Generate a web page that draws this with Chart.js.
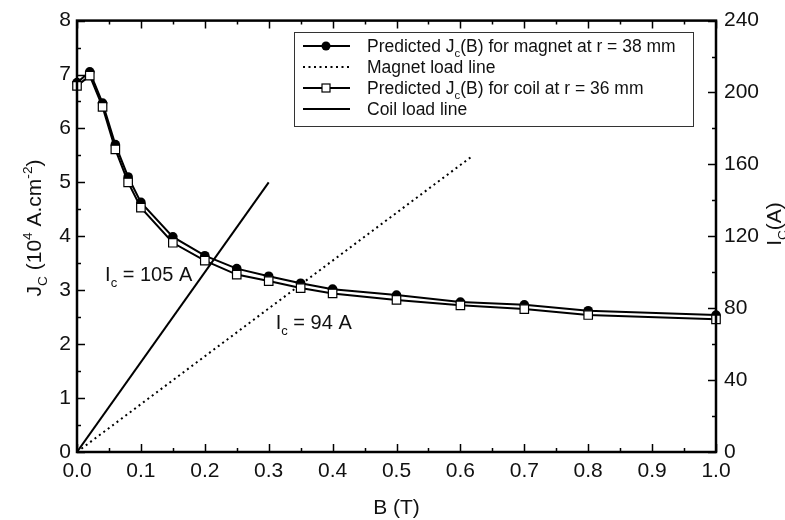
<!DOCTYPE html>
<html>
<head>
<meta charset="utf-8">
<script src="https://cdn.jsdelivr.net/npm/chart.js@4.4.1/dist/chart.umd.min.js"></script>
<style>
  html, body { margin: 0; padding: 0; background: #fff; }
  #wrap { width: 785px; height: 520px; }
</style>
</head>
<body>
<div id="wrap"><canvas id="jc-chart" width="785" height="520"></canvas></div>
<script>
// field values (T) where Jc(B) was predicted
const bField = [0, 0.02, 0.04, 0.06, 0.08, 0.1, 0.15, 0.2, 0.25, 0.3, 0.35, 0.4, 0.5, 0.6, 0.7, 0.8, 1.0];
// Jc in 10^4 A/cm^2
const jcMagnet = [6.85, 7.05, 6.47, 5.70, 5.10, 4.63, 3.99, 3.64, 3.40, 3.26, 3.13, 3.02, 2.91, 2.78, 2.73, 2.62, 2.54];
const jcCoil = [6.79, 6.98, 6.40, 5.61, 5.00, 4.53, 3.88, 3.55, 3.29, 3.17, 3.04, 2.94, 2.82, 2.72, 2.65, 2.54, 2.46];

// load lines, end points only
const coilLoadB = [0, 0.3];
const coilLoadJ = [0, 5.0];
const magnetLoadB = [0, 0.62];
const magnetLoadJ = [0, 5.5];

// right axis is Ic (A): 0..240 over Jc 0..8
const icMax = 240;
const icStep = 40;

const FONT = '"Liberation Sans", Arial, Helvetica, sans-serif';

const toPoints = (xs, ys) => xs.map((x, i) => ({ x: x, y: ys[i] }));

// text with sub/superscript pieces: [text, 0 normal | 1 sub | 2 sup]
function drawRich(ctx, parts, x, y, size, align) {
  const small = size * 0.65;
  let total = 0;
  const widths = parts.map(([t, mode]) => {
    ctx.font = (mode ? small : size) + "px " + FONT;
    const w = ctx.measureText(t).width;
    total += w;
    return w;
  });
  let cx = align === "center" ? x - total / 2 : x;
  ctx.textAlign = "left";
  ctx.textBaseline = "alphabetic";
  parts.forEach(([t, mode], i) => {
    ctx.font = (mode ? small : size) + "px " + FONT;
    let dy = 0;
    if (mode === 1) dy = size * 0.3;
    if (mode === 2) dy = -size * 0.42;
    ctx.fillText(t, cx, y + dy);
    cx += widths[i];
  });
}

const frameAndTicks = {
  id: "frameAndTicks",
  afterDatasetsDraw(chart) {
    const { ctx, chartArea: a, scales } = chart;
    const xs = scales.x, yl = scales.y, yr = scales.y2;
    ctx.save();
    ctx.strokeStyle = "#000";
    ctx.lineWidth = 1.5;
    ctx.beginPath();
    // bottom & top ticks, inward
    for (let i = 0; i <= 20; i++) {
      const px = Math.round(xs.getPixelForValue(i * 0.05)) + 0.5;
      const len = i % 2 === 0 ? 8 : 4;
      ctx.moveTo(px, a.bottom); ctx.lineTo(px, a.bottom - len);
      ctx.moveTo(px, a.top); ctx.lineTo(px, a.top + len);
    }
    // left ticks
    for (let i = 0; i <= 16; i++) {
      const py = Math.round(yl.getPixelForValue(i * 0.5)) + 0.5;
      const len = i % 2 === 0 ? 8 : 4;
      ctx.moveTo(a.left, py); ctx.lineTo(a.left + len, py);
    }
    // right ticks
    for (let i = 0; i <= icMax / 20; i++) {
      const py = Math.round(yr.getPixelForValue(i * 20)) + 0.5;
      const len = i % 2 === 0 ? 8 : 4;
      ctx.moveTo(a.right, py); ctx.lineTo(a.right - len, py);
    }
    ctx.stroke();
    ctx.lineWidth = 2.5;
    ctx.strokeRect(a.left, a.top, a.right - a.left, a.bottom - a.top);
    ctx.restore();
  },
  afterDraw(chart) {
    const { ctx, chartArea: a, scales } = chart;
    const xs = scales.x, yl = scales.y;
    ctx.save();
    ctx.fillStyle = "#111";

    // axis titles
    drawRich(ctx, [["B (T)", 0]], (a.left + a.right) / 2, 514, 21, "center");

    ctx.save();
    ctx.translate(41, 228);
    ctx.rotate(-Math.PI / 2);
    drawRich(ctx, [["J", 0], ["C", 1], [" (10", 0], ["4", 2], [" A.cm", 0], ["-2", 2], [")", 0]], 0, 0, 21, "center");
    ctx.restore();

    ctx.save();
    ctx.translate(781, 224);
    ctx.rotate(-Math.PI / 2);
    drawRich(ctx, [["I", 0], ["C", 1], ["(A)", 0]], 0, 0, 21, "center");
    ctx.restore();

    // operating points
    drawRich(ctx, [["I", 0], ["c", 1], [" = 105 A", 0]],
      xs.getPixelForValue(0.044), yl.getPixelForValue(3.18), 20, "left");
    drawRich(ctx, [["I", 0], ["c", 1], [" = 94 A", 0]],
      xs.getPixelForValue(0.311), yl.getPixelForValue(2.28), 20, "left");

    // legend box
    ctx.strokeStyle = "#333";
    ctx.lineWidth = 1;
    ctx.strokeRect(294.5, 32.5, 399, 94);
    const rows = [
      { parts: [["Predicted J", 0], ["c", 1], ["(B) for magnet at r = 38 mm", 0]], dash: [], mark: "circle" },
      { parts: [["Magnet load line", 0]], dash: [2, 3.5], mark: null },
      { parts: [["Predicted J", 0], ["c", 1], ["(B) for coil at r = 36 mm", 0]], dash: [], mark: "rect" },
      { parts: [["Coil load line", 0]], dash: [], mark: null }
    ];
    rows.forEach((r, i) => {
      const y = 46 + i * 21;
      ctx.strokeStyle = "#000";
      ctx.lineWidth = 2;
      ctx.setLineDash(r.dash);
      ctx.beginPath();
      ctx.moveTo(303, y); ctx.lineTo(350, y);
      ctx.stroke();
      ctx.setLineDash([]);
      if (r.mark === "circle") {
        ctx.fillStyle = "#000";
        ctx.beginPath();
        ctx.arc(326, y, 4.5, 0, Math.PI * 2);
        ctx.fill();
      } else if (r.mark === "rect") {
        ctx.fillStyle = "#fff";
        ctx.lineWidth = 1.2;
        ctx.fillRect(322, y - 4, 8, 8);
        ctx.strokeRect(322, y - 4, 8, 8);
      }
      ctx.fillStyle = "#111";
      drawRich(ctx, r.parts, 367, y + 6, 17.5, "left");
    });
    ctx.restore();
  }
};

const chartConfig = {
  type: "scatter",
  data: {
    datasets: [
      {
        label: "Predicted Jc(B) for coil at r = 36 mm",
        data: toPoints(bField, jcCoil),
        showLine: true,
        order: 0,
        borderColor: "#000",
        borderWidth: 2,
        pointStyle: "rect",
        pointRadius: 6,
        pointBackgroundColor: "#fff",
        pointBorderColor: "#000",
        pointBorderWidth: 1.2,
        clip: 8
      },
      {
        label: "Predicted Jc(B) for magnet at r = 38 mm",
        data: toPoints(bField, jcMagnet),
        showLine: true,
        order: 1,
        borderColor: "#000",
        borderWidth: 2,
        pointStyle: "circle",
        pointRadius: 4.8,
        pointBackgroundColor: "#000",
        pointBorderColor: "#000",
        pointBorderWidth: 0,
        clip: 8
      },
      {
        label: "Magnet load line",
        data: toPoints(magnetLoadB, magnetLoadJ),
        showLine: true,
        order: 2,
        borderColor: "#000",
        borderWidth: 2,
        borderDash: [2, 3.5],
        pointRadius: 0
      },
      {
        label: "Coil load line",
        data: toPoints(coilLoadB, coilLoadJ),
        showLine: true,
        order: 3,
        borderColor: "#000",
        borderWidth: 2,
        pointRadius: 0
      }
    ]
  },
  options: {
    responsive: false,
    animation: false,
    layout: { padding: { top: 14, left: 0, right: 0, bottom: 0 } },
    plugins: {
      legend: { display: false },
      tooltip: { enabled: false }
    },
    scales: {
      x: {
        type: "linear",
        min: 0,
        max: 1,
        grid: { display: false, drawTicks: false },
        border: { display: false },
        ticks: {
          stepSize: 0.1,
          padding: 7,
          color: "#111",
          font: { family: FONT, size: 21 },
          callback: (v) => v.toFixed(1)
        },
        afterFit: (s) => { s.height = 68; }
      },
      y: {
        position: "left",
        min: 0,
        max: 8,
        grid: { display: false, drawTicks: false },
        border: { display: false },
        ticks: {
          stepSize: 1,
          padding: 6,
          color: "#111",
          font: { family: FONT, size: 21 }
        },
        afterFit: (s) => { s.width = 77; }
      },
      y2: {
        position: "right",
        min: 0,
        max: icMax,
        grid: { display: false, drawTicks: false },
        border: { display: false },
        ticks: {
          stepSize: icStep,
          padding: 8,
          color: "#111",
          font: { family: FONT, size: 21 }
        },
        afterFit: (s) => { s.width = 69; }
      }
    }
  },
  plugins: [frameAndTicks]
};

new Chart(document.getElementById("jc-chart").getContext("2d"), chartConfig);
</script>
</body>
</html>
